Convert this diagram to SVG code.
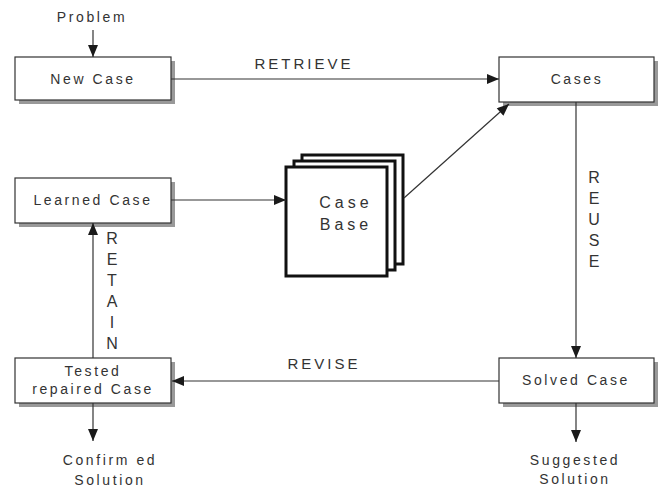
<svg xmlns="http://www.w3.org/2000/svg" width="660" height="488" viewBox="0 0 660 488">
<defs>
<marker id="ah" viewBox="0 0 12 10" refX="12" refY="5" markerWidth="13" markerHeight="10" markerUnits="userSpaceOnUse" orient="auto">
<path d="M0,0 L12,5 L0,10 Z" fill="#1a1a1a"/>
</marker>
<style>
.box{fill:#fff;stroke:#333;stroke-width:1.2}
.sh{fill:#999}
.t{font-family:"Liberation Sans",Arial,sans-serif;font-size:14px;fill:#333;letter-spacing:2.6px;text-anchor:middle}
.cb{font-family:"Liberation Sans",Arial,sans-serif;font-size:16px;fill:#333;letter-spacing:4px;text-anchor:middle}
.lb{font-family:"Liberation Sans",Arial,sans-serif;font-size:15px;fill:#333;letter-spacing:3px;text-anchor:middle}
.v{font-family:"Liberation Sans",Arial,sans-serif;font-size:16px;fill:#333;text-anchor:middle}
.ln{stroke:#333;stroke-width:1.2;fill:none}
.sheet{fill:#fff;stroke:#111;stroke-width:3}
</style>
</defs>
<rect width="660" height="488" fill="#fff"/>

<g id="problem"><text class="t" x="92" y="22">Problem</text></g>

<g id="new-case">
<rect class="sh" x="19" y="61" width="156" height="43"/>
<rect class="box" x="15" y="57" width="156" height="43"/>
<text class="t" x="93" y="84">New Case</text>
</g>

<g id="cases">
<rect class="sh" x="503" y="61" width="155" height="45"/>
<rect class="box" x="499" y="57" width="155" height="45"/>
<text class="t" x="577" y="84">Cases</text>
</g>

<g id="learned-case">
<rect class="sh" x="19" y="182" width="156" height="45"/>
<rect class="box" x="15" y="178" width="156" height="45"/>
<text class="t" x="93" y="205">Learned Case</text>
</g>

<g id="case-base">
<rect class="sheet" x="302" y="155" width="101" height="109"/>
<rect class="sheet" x="294" y="161" width="101" height="109"/>
<rect class="sheet" x="286" y="167" width="101" height="109"/>
<text class="cb" x="346" y="208">Case</text>
<text class="cb" x="346" y="230">Base</text>
</g>

<g id="tested-case">
<rect class="sh" x="19" y="362" width="156" height="45"/>
<rect class="box" x="15" y="358" width="156" height="45"/>
<text class="t" x="93" y="376">Tested</text>
<text class="t" x="93" y="394">repaired Case</text>
</g>

<g id="solved-case">
<rect class="sh" x="503" y="362" width="155" height="45"/>
<rect class="box" x="499" y="358" width="155" height="45"/>
<text class="t" x="576" y="385">Solved Case</text>
</g>

<g id="confirmed-solution">
<text class="t" x="110" y="465">Confirm ed</text>
<text class="t" x="110" y="485">Solution</text>
</g>

<g id="suggested-solution">
<text class="t" x="575" y="465">Suggested</text>
<text class="t" x="575" y="484">Solution</text>
</g>

<g id="connectors">
<line class="ln" x1="93" y1="30" x2="93" y2="57" marker-end="url(#ah)"/>
<line class="ln" x1="171" y1="79" x2="499" y2="79" marker-end="url(#ah)"/>
<line class="ln" x1="171" y1="200" x2="286" y2="200" marker-end="url(#ah)"/>
<line class="ln" x1="404" y1="198" x2="509" y2="104" marker-end="url(#ah)"/>
<line class="ln" x1="576" y1="102" x2="576" y2="358" marker-end="url(#ah)"/>
<line class="ln" x1="499" y1="381" x2="172" y2="381" marker-end="url(#ah)"/>
<line class="ln" x1="93" y1="358" x2="93" y2="223" marker-end="url(#ah)"/>
<line class="ln" x1="93" y1="403" x2="93" y2="441" marker-end="url(#ah)"/>
<line class="ln" x1="576" y1="403" x2="576" y2="442" marker-end="url(#ah)"/>
<text class="lb" x="304" y="69">RETRIEVE</text>
<text class="lb" x="324" y="369">REVISE</text>
<text class="v" x="594" y="183">R</text>
<text class="v" x="594" y="204">E</text>
<text class="v" x="594" y="225">U</text>
<text class="v" x="594" y="246">S</text>
<text class="v" x="594" y="267">E</text>
<text class="v" x="112" y="244">R</text>
<text class="v" x="112" y="265">E</text>
<text class="v" x="112" y="286">T</text>
<text class="v" x="112" y="307">A</text>
<text class="v" x="112" y="328">I</text>
<text class="v" x="112" y="349">N</text>
</g>
</svg>
